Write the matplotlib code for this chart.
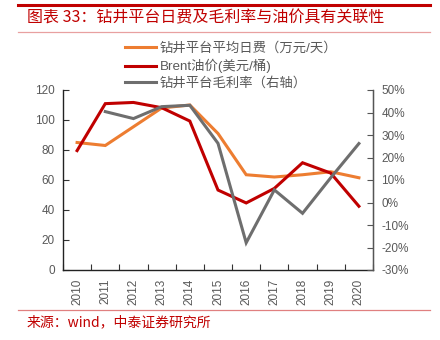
import matplotlib
matplotlib.use("Agg")
import matplotlib.pyplot as plt
from matplotlib.lines import Line2D
from matplotlib.ticker import FixedLocator, FuncFormatter
import numpy as np

plt.rcParams['font.family'] = ['Liberation Sans', 'Noto Sans CJK SC', 'DejaVu Sans']

years = ['2010', '2011', '2012', '2013', '2014', '2015', '2016', '2017', '2018', '2019', '2020']
day_rate = [85.0, 83.0, 95.5, 108.0, 110.0, 91.0, 63.5, 62.0, 63.5, 65.5, 61.5]
brent = [79.6, 110.9, 111.7, 108.2, 99.3, 53.3, 44.7, 54.4, 71.5, 64.6, 42.5]
margin = [np.nan, 40.4, 37.3, 42.6, 43.2, 26.3, -17.9, 5.6, -4.8, 11.0, 26.2]

labels = ['钻井平台平均日费（万元/天）', 'Brent油价(美元/桶)', '钻井平台毛利率（右轴）']
title = '图表 33：钻井平台日费及毛利率与油价具有关联性'
source = '来源：wind，中泰证券研究所'

RED = '#C00000'
ORANGE = '#ED7D31'
GRAY = '#6E6E6E'
TICK = '#595959'

W, H = 440, 340
fig = plt.figure(figsize=(W / 100, H / 100), dpi=100)

def fx(px):
    return px / W

def fy(py):
    return 1 - py / H

# header / footer rules
fig.add_artist(Line2D([fx(18), fx(430)], [fy(5), fy(5)], color=RED, lw=2.2))
fig.add_artist(Line2D([fx(18), fx(430)], [fy(32), fy(32)], color='#E8A0A0', lw=0.9))
fig.add_artist(Line2D([fx(18), fx(430)], [fy(310), fy(310)], color='#E08080', lw=0.9))
fig.text(fx(27), fy(18), title, color=RED, fontsize=11.5, va='center', ha='left',
         family=['Noto Sans CJK SC', 'DejaVu Sans'])
fig.text(fx(27), fy(322), source, color=RED, fontsize=10, va='center', ha='left',
         family=['Noto Sans CJK SC', 'DejaVu Sans'])

ax = fig.add_axes([fx(63), fy(270), fx(373) - fx(63), fy(90) - fy(270)])
ax2 = ax.twinx()

x = np.arange(len(years))
l1, = ax.plot(x, day_rate, color=ORANGE, lw=2.2, solid_joinstyle='miter')
l2, = ax.plot(x, brent, color=RED, lw=2.2, solid_joinstyle='miter')
l3, = ax2.plot(x, margin, color=GRAY, lw=2.2, solid_joinstyle='miter')

ax.set_xlim(-0.5, len(years) - 0.5)
ax.set_ylim(0, 120)
ax.set_yticks(np.arange(0, 121, 20))
ax2.set_ylim(-30, 50)
ax2.set_yticks(np.arange(-30, 51, 10))
ax2.yaxis.set_major_formatter(FuncFormatter(lambda v, p: f'{int(round(v))}%'))

ax.set_xticks(x)
ax.set_xticklabels(years, rotation=90)
ax.xaxis.set_minor_locator(FixedLocator(np.arange(-0.5, len(years), 1.0)))
ax.tick_params(axis='x', which='major', length=0, pad=6, labelsize=8.5, labelcolor=TICK)
ax.tick_params(axis='x', which='minor', direction='in', length=4, width=0.8, color='#333333')
ax.tick_params(axis='y', direction='in', length=4, width=0.8, color='#333333',
               labelsize=8.5, labelcolor=TICK, pad=6)
ax2.tick_params(axis='y', direction='in', length=4, width=0.8, color='#555555',
                labelsize=8.5, labelcolor=TICK, pad=6)

for a in (ax, ax2):
    a.spines['top'].set_visible(False)
ax.spines['left'].set_color('#222222')
ax.spines['bottom'].set_color('#222222')
ax.spines['left'].set_linewidth(1.0)
ax.spines['bottom'].set_linewidth(1.0)
ax2.spines['right'].set_color('#555555')
ax2.spines['right'].set_linewidth(1.0)
ax2.spines['left'].set_visible(False)
ax2.spines['bottom'].set_visible(False)

fig.legend([l1, l2, l3], labels, loc='upper left', bbox_to_anchor=(fx(116), fy(33)),
           frameon=False, handlelength=2.3, handletextpad=0.3,
           labelspacing=0.3, labelcolor='#595959', borderpad=0.2,
           prop={'family': ['Liberation Sans', 'Noto Sans CJK SC'], 'size': 9.6})

fig.savefig('out.png', dpi=100)
